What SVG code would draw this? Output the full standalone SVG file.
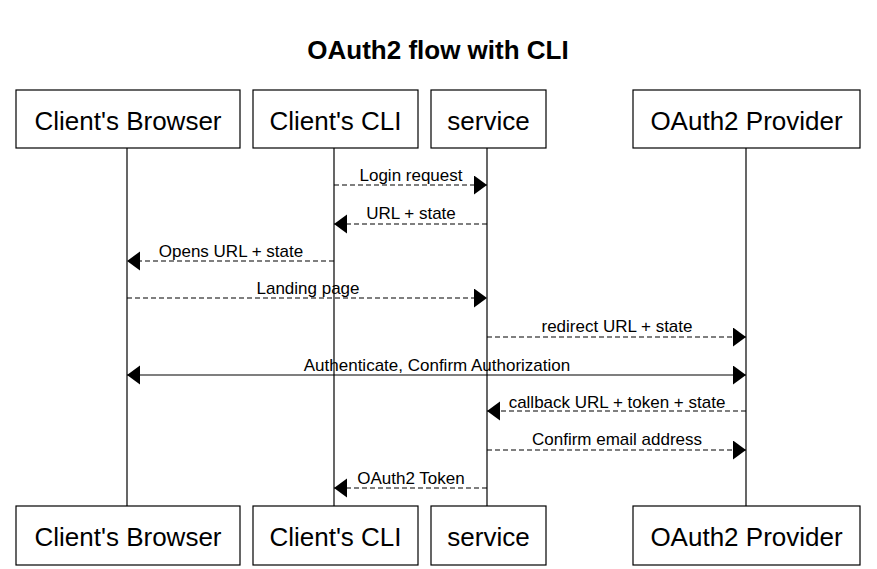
<svg xmlns="http://www.w3.org/2000/svg" width="877" height="569" viewBox="0 0 877 569">
<style>
.box{fill:#fff;stroke:#000;stroke-width:1.2}
.pt{font-family:"Liberation Sans",Arial,sans-serif;font-size:26px;text-anchor:middle;fill:#000}
.life{stroke:#000;stroke-width:1.2}
.msg{stroke:#000;stroke-width:1.2;fill:none}
.dash{stroke-dasharray:5,3}
.lbl{font-family:"Liberation Sans",Arial,sans-serif;font-size:17px;text-anchor:middle;fill:#000}
.title{font-family:"Liberation Sans",Arial,sans-serif;font-size:26px;font-weight:bold;text-anchor:middle;fill:#000}
</style>
<defs>
<marker id="ah" markerUnits="userSpaceOnUse" markerWidth="14" markerHeight="20" refX="13" refY="9.5" orient="auto-start-reverse">
<path d="M0,0 L13,9.5 L0,19 z" fill="#000"/>
</marker>
</defs>
<rect width="877" height="569" fill="#fff"/>
<text class="title" x="438" y="59">OAuth2 flow with CLI</text>
<g id="lifelines">
<line class="life" x1="127" y1="148" x2="127" y2="506"/>
<line class="life" x1="334" y1="148" x2="334" y2="506"/>
<line class="life" x1="487" y1="148" x2="487" y2="506"/>
<line class="life" x1="746" y1="148" x2="746" y2="506"/>
</g>
<g id="browser">
<rect class="box" x="16" y="90" width="224" height="58"/>
<text class="pt" x="128" y="130">Client's Browser</text>
<rect class="box" x="16" y="506" width="224" height="59"/>
<text class="pt" x="128" y="546">Client's Browser</text>
</g>
<g id="cli">
<rect class="box" x="253" y="90" width="165" height="58"/>
<text class="pt" x="335.5" y="130">Client's CLI</text>
<rect class="box" x="253" y="506" width="165" height="59"/>
<text class="pt" x="335.5" y="546">Client's CLI</text>
</g>
<g id="service">
<rect class="box" x="431" y="90" width="115" height="58"/>
<text class="pt" x="488.5" y="130">service</text>
<rect class="box" x="431" y="506" width="115" height="59"/>
<text class="pt" x="488.5" y="546">service</text>
</g>
<g id="provider">
<rect class="box" x="633" y="90" width="227" height="58"/>
<text class="pt" x="746.5" y="130">OAuth2 Provider</text>
<rect class="box" x="633" y="506" width="227" height="59"/>
<text class="pt" x="746.5" y="546">OAuth2 Provider</text>
</g>
<g id="connectors">
<line class="msg dash" x1="334" y1="185" x2="487" y2="185" marker-end="url(#ah)"/>
<text class="lbl" x="411" y="181">Login request</text>
<line class="msg dash" x1="487" y1="224" x2="334" y2="224" marker-end="url(#ah)"/>
<text class="lbl" x="411" y="219">URL + state</text>
<line class="msg dash" x1="334" y1="261" x2="127" y2="261" marker-end="url(#ah)"/>
<text class="lbl" x="231" y="257">Opens URL + state</text>
<line class="msg dash" x1="127" y1="298" x2="487" y2="298" marker-end="url(#ah)"/>
<text class="lbl" x="308" y="294">Landing page</text>
<line class="msg dash" x1="487" y1="337" x2="746" y2="337" marker-end="url(#ah)"/>
<text class="lbl" x="617" y="332">redirect URL + state</text>
<line class="msg" x1="127" y1="375" x2="746" y2="375" marker-start="url(#ah)" marker-end="url(#ah)"/>
<text class="lbl" x="437" y="371">Authenticate, Confirm Authorization</text>
<line class="msg dash" x1="746" y1="411" x2="487" y2="411" marker-end="url(#ah)"/>
<text class="lbl" x="617" y="408">callback URL + token + state</text>
<line class="msg dash" x1="487" y1="450" x2="746" y2="450" marker-end="url(#ah)"/>
<text class="lbl" x="617" y="445">Confirm email address</text>
<line class="msg dash" x1="487" y1="488" x2="334" y2="488" marker-end="url(#ah)"/>
<text class="lbl" x="411" y="484">OAuth2 Token</text>
</g>
</svg>
